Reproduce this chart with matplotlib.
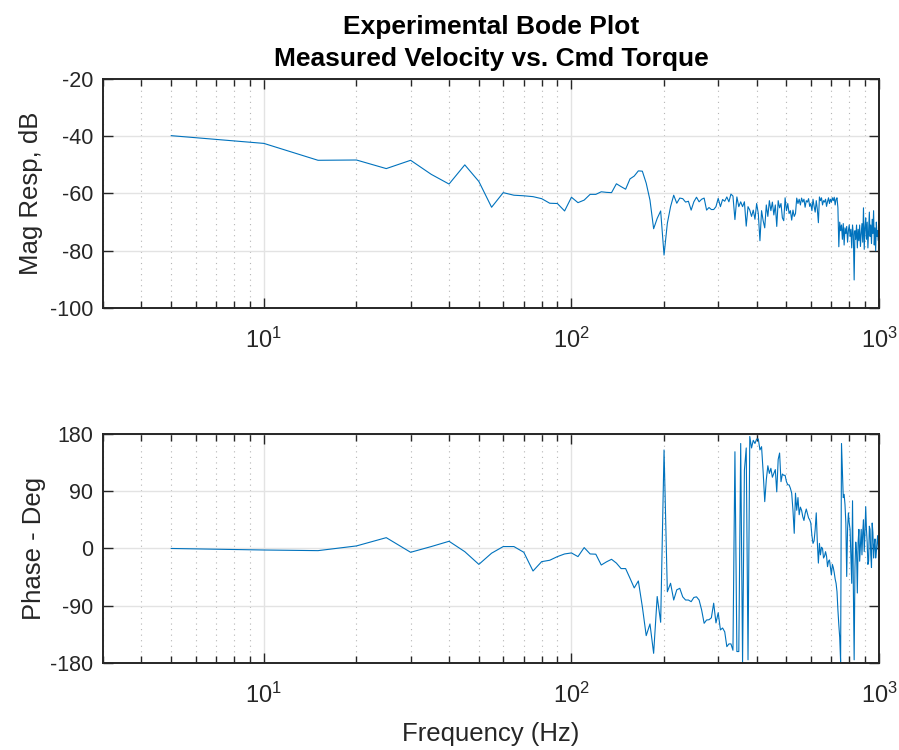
import numpy as np
import matplotlib
matplotlib.use("Agg")
import matplotlib.pyplot as plt
from matplotlib.ticker import LogLocator, FixedLocator, NullFormatter, FixedFormatter

plt.rcParams['font.family'] = ['Liberation Sans', 'DejaVu Sans']
plt.rcParams['mathtext.fontset'] = 'custom'
plt.rcParams['mathtext.rm'] = 'Liberation Sans'
plt.rcParams['mathtext.it'] = 'Liberation Sans:italic'
plt.rcParams['mathtext.bf'] = 'Liberation Sans:bold'
plt.rcParams['axes.unicode_minus'] = False

# ---------------- data ----------------
freq_hz = list(range(5, 1005, 5))

mag_db = [
    -39.8, -42.5, -48.4, -48.3, -51.3, -48.4, -53.3, -56.7, -50.0, -55.8,   # 5-50
    -64.8, -59.7, -60.6, -60.8, -61.1, -61.8, -63.4, -63.5, -66.1, -61.3,   # 55-100
    -63.2, -62.3, -60.3, -60.3, -59.4, -59.6, -59.7, -56.6, -57.6, -58.5,   # 105-150
    -54.9, -53.9, -52.1, -52.2, -56.4, -62.3, -72.3, -68.7, -66.1, -81.5,   # 155-200
    -70.4, -64.6, -60.6, -63.4, -61.6, -61.8, -63.0, -62.7, -65.8, -62.9,   # 205-250
    -61.3, -62.9, -62.0, -61.6, -65.8, -64.9, -65.6, -65.6, -64.6, -61.7,   # 255-300
    -64.6, -62.1, -62.7, -61.2, -62.9, -60.2, -60.9, -69.1, -61.2, -64.6,   # 305-350
    -62.9, -64.6, -62.9, -71.4, -64.6, -65.8, -68.0, -65.8, -69.0, -63.5,   # 355-400
    -67.0, -76.5, -66.0, -69.5, -72.0, -64.0, -68.0, -62.5, -66.0, -63.0,   # 405-450
    -67.5, -64.0, -71.5, -62.5, -65.0, -63.5, -68.5, -69.5, -61.5, -66.0,   # 455-500
    -63.5, -67.0, -66.0, -69.3, -65.8, -68.0, -67.0, -61.6, -63.5, -62.0,   # 505-550
    -64.0, -61.6, -63.0, -62.0, -64.8, -62.5, -63.0, -61.8, -64.5, -63.5,   # 555-600
    -66.0, -62.0, -64.5, -66.5, -62.5, -65.5, -70.2, -61.2, -62.5, -61.5,   # 605-650
    -64.0, -62.5, -63.0, -62.0, -64.5, -62.8, -61.5, -63.5, -62.0, -63.0,   # 655-700
    -61.5, -62.5, -61.3, -64.0, -62.0, -61.5, -65.0, -78.6, -70.0, -73.0,   # 705-750
    -71.0, -76.0, -70.5, -78.0, -72.0, -74.0, -71.5, -77.0, -73.0, -71.0,   # 755-800
    -75.0, -72.5, -79.0, -71.0, -74.5, -90.2, -73.0, -76.0, -71.0, -79.0,   # 805-850
    -72.5, -76.5, -71.0, -78.5, -74.0, -70.5, -77.0, -65.0, -79.5, -72.0,   # 855-900
    -68.5, -76.0, -70.0, -79.0, -73.0, -66.5, -75.0, -71.0, -77.5, -69.0,   # 905-950
    -74.0, -66.0, -78.0, -72.0, -80.0, -70.0, -75.0, -73.0, -76.5, -67.0,   # 955-1000
]

phase_deg = [
    0.0, -2.4, -3.4, 4.0, 17.0, -6.0, 3.0, 11.3, -5.0, -25.0,               # 5-50
    -7.4, 3.0, 3.0, -6.0, -35.4, -20.7, -18.5, -12.8, -8.6, -7.0,           # 55-100
    -12.8, 1.4, -8.6, -9.0, -26.0, -21.0, -17.0, -23.0, -31.6, -31.6,       # 105-150
    -46.8, -62.0, -51.0, -91.5, -137.0, -118.6, -164.8, -75.5, -116.0, 154.8,  # 155-200
    -68.0, -54.7, -81.0, -65.0, -62.6, -76.0, -81.0, -81.0, -83.6, -77.0,   # 205-250
    -76.0, -81.0, -96.7, -117.6, -112.4, -112.0, -109.0, -86.0, -117.0, -101.0,  # 255-300
    -128.0, -125.0, -131.0, -154.3, -150.0, -150.0, -160.0, 152.0, -162.0, -162.0,  # 305-350
    165.0, -180.0, 123.0, 158.0, -175.0, 176.0, 158.0, 170.0, 165.0, 172.0,  # 355-400
    172.0, 155.0, 160.0, 120.0, 73.6, 108.0, 130.0, 118.0, 126.0, 112.0,    # 405-450
    118.0, 124.0, 89.0, 140.0, 150.0, 105.0, 117.0, 115.0, 115.0, 105.0,    # 455-500
    100.0, 100.0, 94.6, 87.0, 60.0, 23.8, 87.0, 60.0, 80.0, 53.0,           # 505-550
    65.0, 60.0, 50.0, 44.0, 55.0, 62.0, 55.0, 48.0, 45.0, 40.0,             # 555-600
    20.0, 8.0, 12.0, 30.0, 56.0, 10.0, -23.0, 8.0, -10.0, 2.0,              # 605-650
    0.0, -15.0, -12.0, -5.0, -12.0, -28.6, -20.0, -18.0, -30.0, -41.6,      # 655-700
    -25.0, -30.0, -38.0, -48.0, -54.8, -68.0, -96.7, -120.0, -140.0, -178.0,  # 705-750
    165.0, 120.0, 80.0, 85.0, 69.0, 40.0, -44.0, 30.0, 56.0, 40.0,          # 755-800
    30.0, -10.0, -54.8, 75.0, -60.0, -175.0, -30.0, 10.0, -5.0, -70.0,      # 805-850
    10.0, 30.0, -20.0, 5.0, 30.0, -10.0, 25.0, 45.0, -5.0, 25.0,            # 855-900
    65.8, 30.0, 10.0, -25.0, -20.0, 35.0, 30.0, -10.0, -30.0, 40.0,         # 905-950
    25.0, -15.0, 5.0, 15.0, -15.0, -5.0, 10.0, 20.0, -2.0, 5.0,             # 955-1000
]

title_lines = ["Experimental Bode Plot", "Measured Velocity vs. Cmd Torque"]
mag_ticks = [-100, -80, -60, -40, -20]
phase_ticks = [-180, -90, 0, 90, 180]
x_ticks = [10, 100, 1000]
x_ticklabels = [r"$\mathregular{10^{1}}$", r"$\mathregular{10^{2}}$", r"$\mathregular{10^{3}}$"]

n = min(len(freq_hz), len(mag_db), len(phase_deg))
f = np.array(freq_hz[:n], dtype=float)
m = np.array(mag_db[:n])
p = np.array(phase_deg[:n])

# ---------------- figure ----------------
fig = plt.figure(figsize=(8.99, 7.5), dpi=100)
ax1 = fig.add_axes([0.1146, 0.5893, 0.8632, 0.3054])
ax2 = fig.add_axes([0.1146, 0.1160, 0.8632, 0.3054])

line_color = "#0072BD"
axis_color = "#262626"

def style(ax, yticks):
    ax.set_xscale("log")
    ax.set_xlim(3, 1000)
    ax.set_ylim(yticks[0], yticks[-1])
    ax.set_yticks(yticks)
    ax.xaxis.set_major_locator(FixedLocator(x_ticks))
    ax.xaxis.set_major_formatter(FixedFormatter(x_ticklabels))
    ax.xaxis.set_minor_locator(LogLocator(base=10, subs=np.arange(2, 10), numticks=20))
    ax.xaxis.set_minor_formatter(NullFormatter())
    ax.grid(True, which="major", color="#e3e3e3", linewidth=1.0, linestyle="-")
    ax.grid(True, which="minor", axis="x", color="#b5b5b5", linewidth=0.8,
            linestyle=(0, (1, 4)))
    ax.set_axisbelow(True)
    for s in ax.spines.values():
        s.set_color(axis_color)
        s.set_linewidth(1.4)
    ax.tick_params(which="both", direction="in", top=True, right=True,
                   color=axis_color, labelcolor=axis_color, width=1.0)
    ax.tick_params(axis="y", labelsize=15.5, pad=7)
    ax.tick_params(axis="x", labelsize=17, pad=14)
    ax.tick_params(which="major", length=7)
    ax.tick_params(which="minor", length=5)

ax1.plot(f, m, color=line_color, linewidth=0.8)
style(ax1, mag_ticks)
ax1.set_ylabel("Mag Resp, dB", fontsize=18.5, color=axis_color, labelpad=5)
ax1.set_title("\n".join(title_lines), fontsize=19, fontweight="bold",
              color="black", pad=9, linespacing=1.45)

ax2.plot(f, p, color=line_color, linewidth=0.8)
style(ax2, phase_ticks)
ax2.set_ylabel("Phase - Deg", fontsize=18.5, color=axis_color, labelpad=3)
ax2.set_xlabel("Frequency (Hz)", fontsize=18.5, color=axis_color, labelpad=10)

fig.savefig("out.png", dpi=100)
